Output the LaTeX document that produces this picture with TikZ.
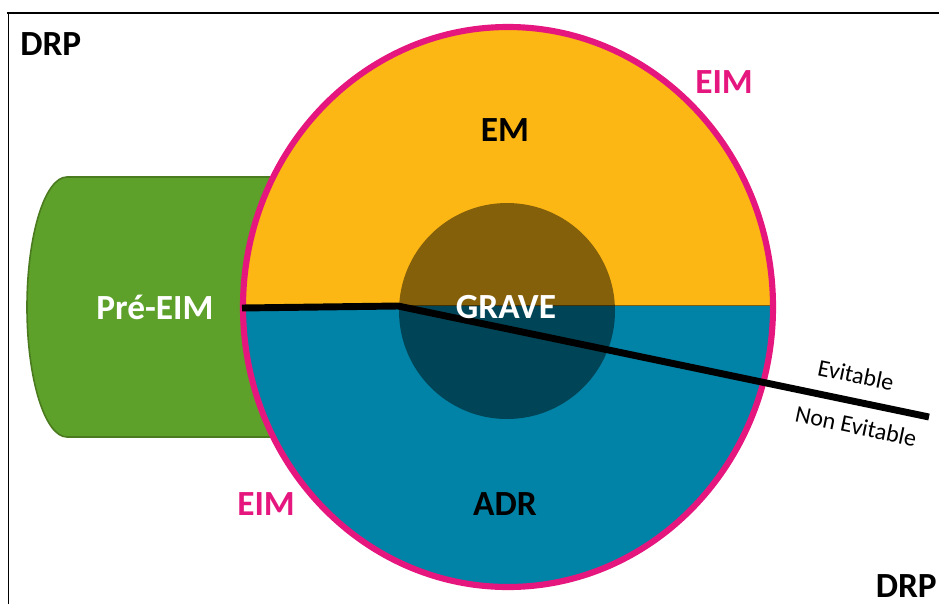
\documentclass[tikz,border=0pt]{standalone}
\usepackage{fontspec}
\setmainfont{Carlito}
\definecolor{emyellow}{HTML}{FDB714}
\definecolor{adrblue}{HTML}{0083A6}
\definecolor{eimpink}{HTML}{E5177E}
\definecolor{pregreen}{HTML}{5EA12A}
\definecolor{pregreenedge}{HTML}{4B7B1F}
\definecolor{midedge}{HTML}{7A5F10}
\begin{document}
\begin{tikzpicture}[x=0.75pt, y=-0.75pt,
	zonetext/.style={inner sep=0pt, font=\bfseries\fontsize{26.5}{30}\selectfont},
	sidetext/.style={inner sep=0pt, font=\fontsize{18}{20}\selectfont, rotate=-11.8}]
		\useasboundingbox (0,0) rectangle (939,604);
		%frame
		\draw[line width=2.2pt] (7,13) -- (939,13);
		\draw[line width=1.2pt] (8.5,13) -- (8.5,604);
		
		%pre-EIM can
		\draw[pregreenedge, fill=pregreen, line width=1.2pt] (320,177) -- (67,177)
			arc[start angle=270, end angle=90, x radius=40, y radius=130] -- (320,437);
		
		%big circle, two halves
		\begin{scope}
			\clip (508,307) ellipse [x radius=265, y radius=280];
			\fill[emyellow] (200,0) rectangle (800,306);
			\fill[adrblue] (200,306) rectangle (800,600);
			\draw[midedge, line width=0.8pt] (200,305.5) -- (800,305.5);
		\end{scope}
		\draw[eimpink, line width=4.6pt] (508,307) ellipse [x radius=265, y radius=280];
		
		%grave
		\fill[black, fill opacity=0.47] (507,311) circle[radius=108];
		
		%cut line
		\coordinate (cutstart) at (242,308);
		\coordinate (cutbend) at (398,306);
		\coordinate (cutend) at (929,417);
		\draw[line width=5.2pt] (cutstart) -- (cutbend) -- (cutend);
		
		\node (drptop) at (20,55) [zonetext, anchor=base west]{DRP};
		\node (drpbottom) at (937,597) [zonetext, anchor=base east]{DRP};
		\node (eimtop) at (695,93) [zonetext, anchor=base west, eimpink]{EIM};
		\node (eimbottom) at (237,515) [zonetext, anchor=base west, eimpink]{EIM};
		\node (em) at (505,141) [zonetext, anchor=base]{EM};
		\node (adr) at (505,515) [zonetext, anchor=base]{ADR};
		\node (grave) at (506,318) [zonetext, anchor=base, white]{GRAVE};
		\node (preeim) at (155,319) [zonetext, anchor=base, white]{Pré-EIM};
		\node (evitable) at (856,375) [sidetext]{Evitable};
		\node (nonevitable) at (856,426) [sidetext]{Non Evitable};
		\end{tikzpicture}
\end{document}
